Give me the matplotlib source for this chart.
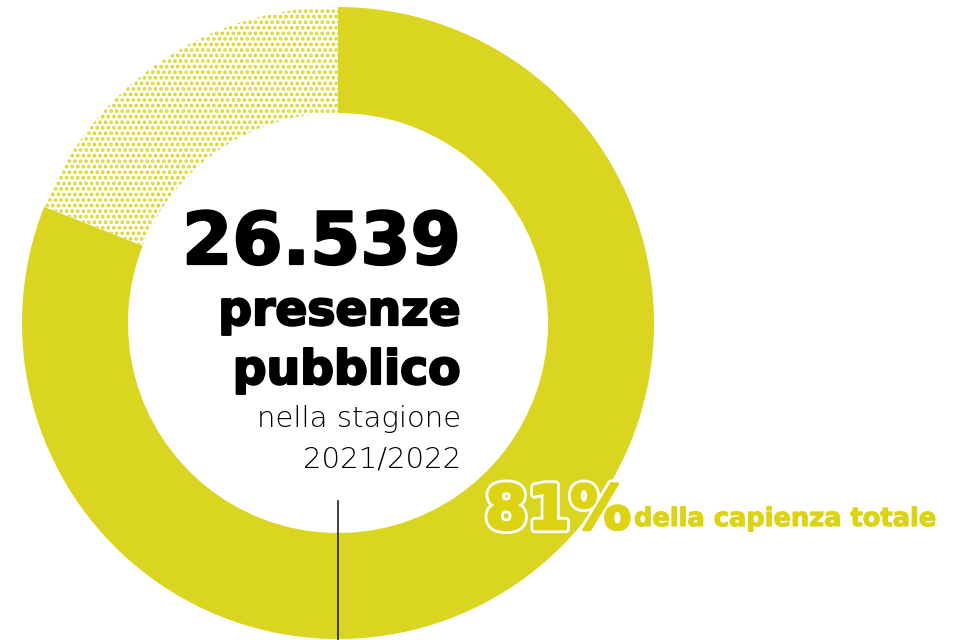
import matplotlib.pyplot as plt
import matplotlib.patheffects as pe

# dati
shares = [81, 19]          # quota occupata / non occupata
total_label = "26.539"
line1 = "presenze"
line2 = "pubblico"
line3 = "nella stagione"
line4 = "2021/2022"
pct_label = "81%"
pct_text = "della capienza totale"

YELLOW = '#D9D520'
TXT_YELLOW = '#DCD412'

plt.rcParams['hatch.linewidth'] = 1.8

fig = plt.figure(figsize=(9.66, 6.4), dpi=100)
ax = fig.add_axes([0, 0, 1, 1])

wedges, _ = ax.pie(shares, center=(338, 323), radius=316,
                   startangle=-90, counterclock=True,
                   colors=[YELLOW, 'white'],
                   wedgeprops=dict(width=106, linewidth=0))
wedges[1].set_edgecolor(YELLOW)
wedges[1].set_hatch('...')

ax.set_xlim(0, 966)
ax.set_ylim(640, 0)
ax.set_aspect('auto')
ax.axis('off')

# linea verticale
ax.plot([338, 338], [501, 640], color='#222222', lw=1.2)

wide = ['DejaVu Sans']
thick = [pe.withStroke(linewidth=1.6, foreground='black')]
bold_kw = dict(fontweight='bold', family=wide)
ax.text(461, 264, total_label, ha='right', va='baseline', fontsize=52,
        color='black', path_effects=thick, **bold_kw)
ax.text(461, 325, line1, ha='right', va='baseline', fontsize=34,
        color='black', path_effects=thick, **bold_kw)
ax.text(461, 384, line2, ha='right', va='baseline', fontsize=34,
        color='black', path_effects=thick, **bold_kw)
ax.text(461, 427, line3, ha='right', va='baseline', fontsize=21,
        fontweight=200, family=wide, color='#000000')
ax.text(461, 468, line4, ha='right', va='baseline', fontsize=21,
        fontweight=200, family=wide, color='#000000')

ax.text(485, 529, pct_label, ha='left', va='baseline', fontsize=44,
        color=TXT_YELLOW, **bold_kw,
        path_effects=[pe.Stroke(linewidth=6, foreground='white'),
                      pe.Stroke(linewidth=2, foreground=TXT_YELLOW),
                      pe.Normal()])
ax.text(634, 526, pct_text, ha='left', va='baseline', fontsize=18.5,
        fontweight='bold', family=wide, color=TXT_YELLOW,
        path_effects=[pe.withStroke(linewidth=0.8, foreground=TXT_YELLOW)])

fig.savefig('out.png', dpi=100)
